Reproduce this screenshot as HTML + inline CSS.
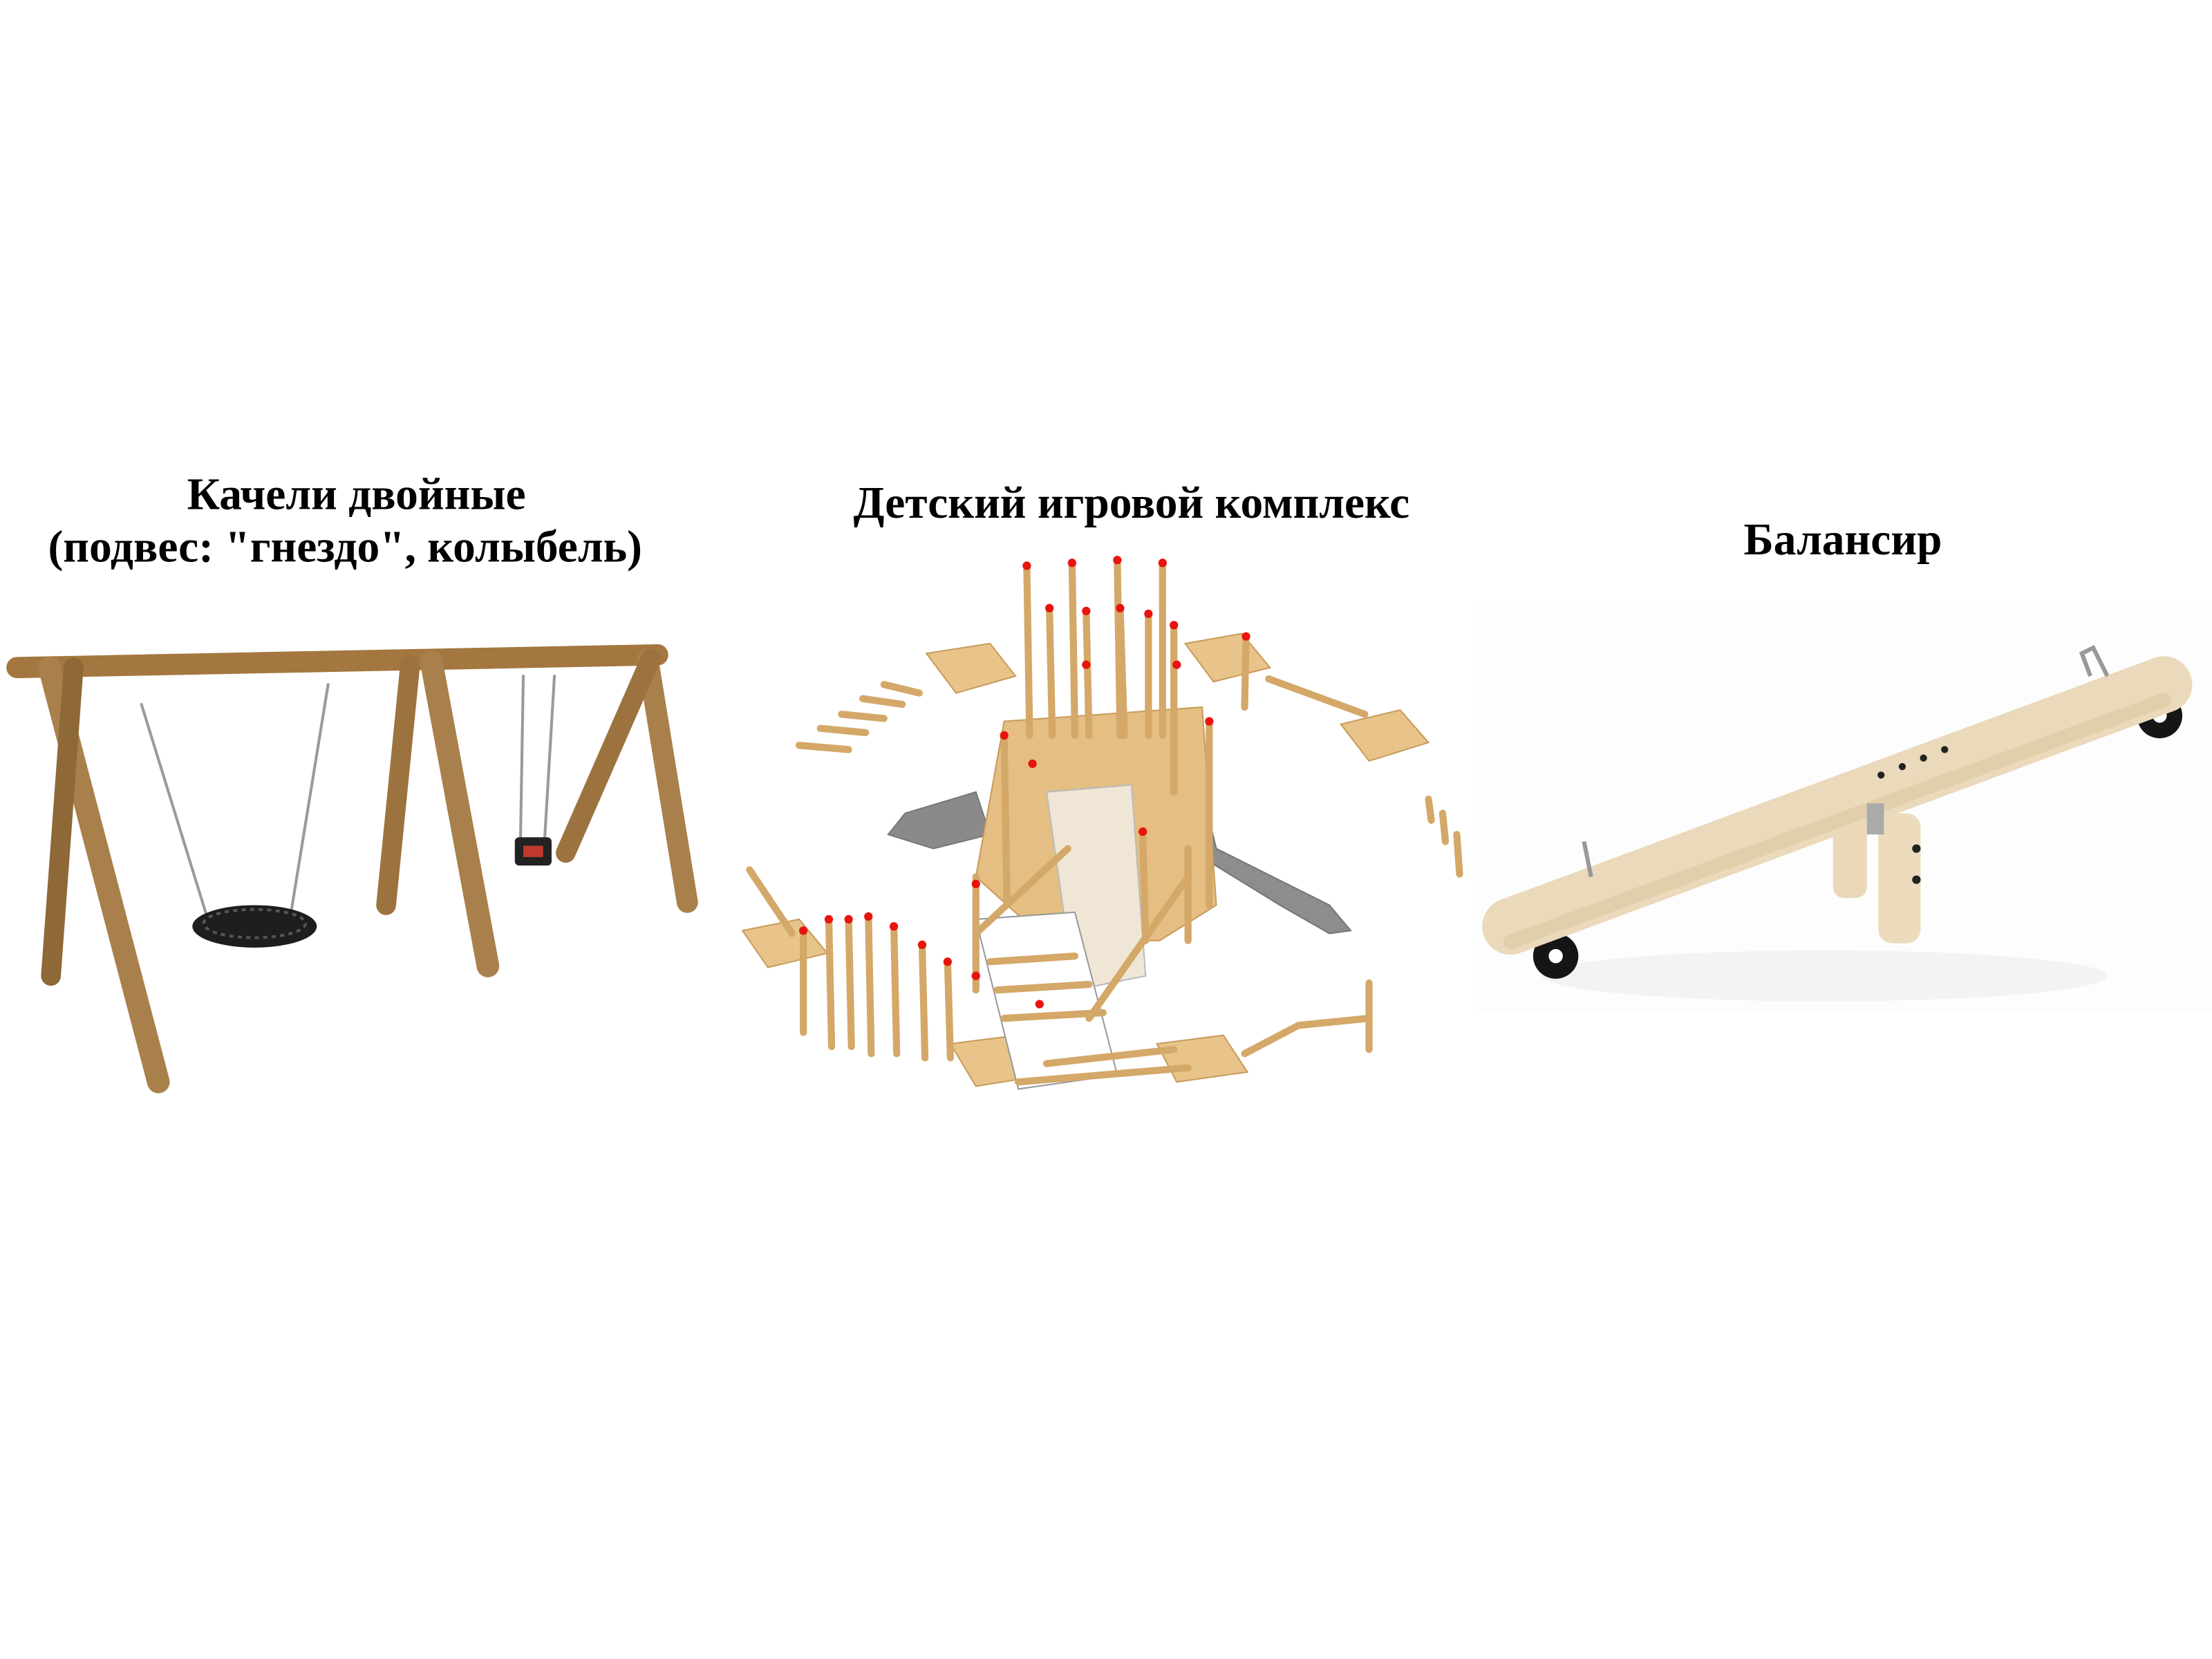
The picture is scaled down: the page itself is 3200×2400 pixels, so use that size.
<!DOCTYPE html>
<html><head><meta charset="utf-8"><style>
html,body{margin:0;padding:0;background:#fff}
svg{display:block}
text{font-family:"Liberation Serif",serif;font-weight:bold;fill:#000}
</style></head><body>
<svg width="3200" height="2400" viewBox="0 0 1564 1173" preserveAspectRatio="none" xmlns="http://www.w3.org/2000/svg">
<rect width="1564" height="1173" fill="#fff"/>
<text x="252" y="360" font-size="32" text-anchor="middle">Качели двойные</text>
<text x="244" y="397" font-size="32" text-anchor="middle">(подвес: "гнездо", колыбель)</text>
<text x="800" y="366" font-size="32" text-anchor="middle">Детский игровой комплекс</text>
<text x="1303" y="392" font-size="32" text-anchor="middle">Балансир</text>

<!-- Swing -->
<g stroke-linecap="round">
<line x1="100" y1="498" x2="150" y2="660" stroke="#9a9a9a" stroke-width="2"/>
<line x1="232" y1="484" x2="205" y2="650" stroke="#9a9a9a" stroke-width="2"/>
<line x1="370" y1="478" x2="368" y2="595" stroke="#9a9a9a" stroke-width="2"/>
<line x1="392" y1="478" x2="385" y2="595" stroke="#9a9a9a" stroke-width="2"/>
<line x1="12" y1="472" x2="465" y2="463" stroke="#a3773f" stroke-width="15"/>
<line x1="35" y1="472" x2="112" y2="765" stroke="#a9804b" stroke-width="16"/>
<line x1="52" y1="472" x2="36" y2="690" stroke="#8f6838" stroke-width="14"/>
<line x1="290" y1="470" x2="273" y2="640" stroke="#9c733f" stroke-width="14"/>
<line x1="305" y1="468" x2="345" y2="683" stroke="#a9804b" stroke-width="16"/>
<line x1="458" y1="466" x2="486" y2="638" stroke="#a9804b" stroke-width="15"/>
<line x1="460" y1="466" x2="400" y2="603" stroke="#9c733f" stroke-width="14"/>
</g>
<ellipse cx="180" cy="655" rx="44" ry="15" fill="#1e1e1e"/>
<ellipse cx="180" cy="653" rx="36" ry="10" fill="none" stroke="#555" stroke-width="2" stroke-dasharray="3 3"/>
<rect x="364" y="592" width="26" height="20" fill="#222" rx="3"/>
<rect x="370" y="598" width="14" height="8" fill="#c0392b"/>

<!-- Playground complex (simplified) -->
<g fill="#e8c48a" stroke="#c89b5a" stroke-width="1">
<path d="M690 560 L640 575 L628 590 L660 600 L700 590 Z" fill="#8a8a8a" stroke="#777"/>
<path d="M845 540 L860 600 L940 640 L955 658 L940 660 L905 640 L840 600 Z" fill="#8d8d8d" stroke="#777"/>
<polygon points="655,462 700,455 718,478 676,490" />
<polygon points="838,455 878,448 898,472 858,482" />
<polygon points="948,512 990,502 1010,525 968,538" />
<polygon points="525,658 565,650 585,674 543,684" />
<polygon points="672,738 720,732 740,760 690,768" />
<polygon points="818,738 865,732 882,758 832,765" />
<polygon points="710,510 850,500 860,640 820,665 740,665 690,620" fill="#e4be82"/>
<polygon points="740,560 800,555 810,690 760,700" fill="#f0e6d6" stroke="#bbb"/>
<polygon points="690,650 760,645 790,760 720,770" fill="#fff" stroke="#999"/>
</g>
<g stroke="#d4a868" stroke-width="5" stroke-linecap="round">
<line x1="726" y1="400" x2="728" y2="520"/><line x1="758" y1="398" x2="760" y2="520"/>
<line x1="790" y1="396" x2="792" y2="520"/><line x1="822" y1="398" x2="822" y2="520"/>
<line x1="742" y1="430" x2="744" y2="520"/><line x1="768" y1="432" x2="770" y2="520"/>
<line x1="792" y1="430" x2="795" y2="520"/><line x1="812" y1="434" x2="812" y2="520"/>
<line x1="830" y1="442" x2="830" y2="560"/><line x1="881" y1="450" x2="880" y2="500"/>
<line x1="710" y1="520" x2="712" y2="640"/><line x1="855" y1="510" x2="855" y2="640"/>
<line x1="690" y1="620" x2="690" y2="700"/><line x1="808" y1="590" x2="810" y2="665"/>
<line x1="840" y1="600" x2="840" y2="665"/>
<line x1="586" y1="650" x2="588" y2="740"/><line x1="600" y1="650" x2="602" y2="740"/>
<line x1="614" y1="648" x2="616" y2="745"/><line x1="632" y1="655" x2="634" y2="745"/>
<line x1="652" y1="668" x2="654" y2="748"/><line x1="670" y1="680" x2="672" y2="748"/>
<line x1="568" y1="658" x2="568" y2="730"/>
<line x1="530" y1="615" x2="560" y2="660"/>
<line x1="897" y1="480" x2="965" y2="505"/>
<line x1="740" y1="752" x2="830" y2="742"/><line x1="720" y1="765" x2="840" y2="755"/>
<line x1="880" y1="745" x2="918" y2="725"/><line x1="918" y1="725" x2="968" y2="720"/>
<line x1="968" y1="695" x2="968" y2="742"/>
<line x1="1010" y1="565" x2="1012" y2="580"/><line x1="1020" y1="575" x2="1022" y2="595"/>
<line x1="1030" y1="590" x2="1032" y2="618"/>
<line x1="565" y1="527" x2="600" y2="530"/><line x1="580" y1="515" x2="612" y2="518"/>
<line x1="595" y1="505" x2="625" y2="508"/><line x1="610" y1="494" x2="638" y2="498"/>
<line x1="625" y1="484" x2="650" y2="490"/>
<line x1="700" y1="680" x2="760" y2="676"/><line x1="705" y1="700" x2="770" y2="696"/>
<line x1="710" y1="720" x2="780" y2="716"/>
<line x1="690" y1="660" x2="755" y2="600"/><line x1="770" y1="720" x2="840" y2="620"/>
</g>
<g fill="#e8140e">
<circle cx="726" cy="400" r="3"/><circle cx="758" cy="398" r="3"/><circle cx="790" cy="396" r="3"/><circle cx="822" cy="398" r="3"/>
<circle cx="742" cy="430" r="3"/><circle cx="768" cy="432" r="3"/><circle cx="792" cy="430" r="3"/><circle cx="812" cy="434" r="3"/>
<circle cx="830" cy="442" r="3"/><circle cx="881" cy="450" r="3"/><circle cx="832" cy="470" r="3"/><circle cx="768" cy="470" r="3"/>
<circle cx="710" cy="520" r="3"/><circle cx="855" cy="510" r="3"/><circle cx="690" cy="625" r="3"/><circle cx="808" cy="588" r="3"/>
<circle cx="586" cy="650" r="3"/><circle cx="600" cy="650" r="3"/><circle cx="614" cy="648" r="3"/><circle cx="632" cy="655" r="3"/>
<circle cx="652" cy="668" r="3"/><circle cx="670" cy="680" r="3"/><circle cx="568" cy="658" r="3"/><circle cx="730" cy="540" r="3"/>
<circle cx="690" cy="690" r="3"/><circle cx="735" cy="710" r="3"/>
</g>

<!-- Balancer -->
<rect x="1045" y="425" width="519" height="290" fill="#fdfdfd"/>
<ellipse cx="1290" cy="690" rx="200" ry="18" fill="#f3f3f3"/>
<rect x="1296" y="575" width="24" height="60" fill="#ead8b8" rx="8"/>
<rect x="1328" y="575" width="30" height="92" fill="#ecdcbd" rx="10"/>
<circle cx="1355" cy="600" r="3" fill="#222"/><circle cx="1355" cy="622" r="3" fill="#222"/>
<circle cx="1100" cy="676" r="16" fill="#151515"/><circle cx="1100" cy="676" r="5" fill="#fff"/>
<circle cx="1527" cy="506" r="16" fill="#151515"/><circle cx="1527" cy="506" r="5" fill="#fff"/>
<line x1="1068" y1="655" x2="1530" y2="484" stroke="#ead9ba" stroke-width="40" stroke-linecap="round"/>
<line x1="1068" y1="666" x2="1530" y2="495" stroke="#dcc7a2" stroke-width="10" stroke-linecap="round" opacity="0.6"/>
<circle cx="1330" cy="548" r="2.5" fill="#222"/><circle cx="1345" cy="542" r="2.5" fill="#222"/>
<circle cx="1360" cy="536" r="2.5" fill="#222"/><circle cx="1375" cy="530" r="2.5" fill="#222"/>
<path d="M1125 620 L1120 595" stroke="#999" stroke-width="3" fill="none"/>
<path d="M1478 478 L1472 462 L1480 458 L1490 478" stroke="#999" stroke-width="3" fill="none"/>
<rect x="1320" y="568" width="12" height="22" fill="#aaa"/>
</svg>
</body></html>
